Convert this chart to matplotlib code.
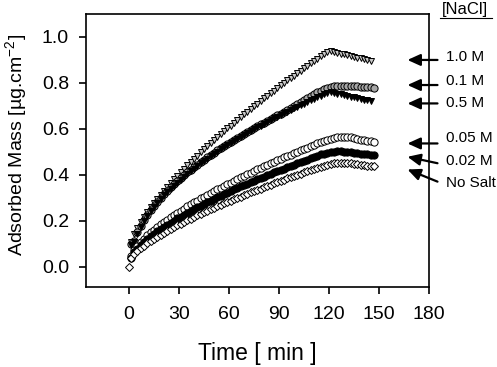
import matplotlib
matplotlib.use("Agg")
import matplotlib.pyplot as plt
from matplotlib.lines import Line2D

plt.rcParams['font.family'] = ['Liberation Sans', 'DejaVu Sans']
plt.rcParams['mathtext.fontset'] = 'custom'
plt.rcParams['mathtext.rm'] = 'Liberation Sans'
plt.rcParams['mathtext.it'] = 'Liberation Sans:italic'

# sampling times (min), one reading every 2 min
time_min = [1, 3, 5, 7, 9, 11, 13, 15, 17, 19, 21, 23, 25, 27, 29, 31, 33, 35, 37,
            39, 41, 43, 45, 47, 49, 51, 53, 55, 57, 59, 61, 63, 65, 67, 69, 71, 73,
            75, 77, 79, 81, 83, 85, 87, 89, 91, 93, 95, 97, 99, 101, 103, 105, 107,
            109, 111, 113, 115, 117, 119, 121, 123, 125, 127, 129, 131, 133, 135,
            137, 139, 141, 143, 145, 147]

# adsorbed mass (ug/cm2) for each salt concentration
mass_1_0M = [0.106, 0.141, 0.169, 0.194, 0.217, 0.238, 0.258, 0.277, 0.296, 0.313,
             0.331, 0.348, 0.364, 0.380, 0.395, 0.411, 0.426, 0.441, 0.455, 0.469,
             0.483, 0.497, 0.511, 0.524, 0.537, 0.551, 0.564, 0.576, 0.589, 0.602,
             0.614, 0.626, 0.639, 0.651, 0.663, 0.674, 0.686, 0.698, 0.709, 0.721,
             0.732, 0.744, 0.755, 0.766, 0.777, 0.788, 0.799, 0.810, 0.821, 0.831,
             0.842, 0.853, 0.863, 0.874, 0.884, 0.894, 0.905, 0.915, 0.925, 0.935,
             0.937, 0.933, 0.930, 0.926, 0.923, 0.920, 0.916, 0.913, 0.909, 0.906,
             0.903, 0.899, 0.896]
mass_0_5M = [0.095, 0.108, 0.144, 0.173, 0.198, 0.220, 0.241, 0.259, 0.277, 0.294,
             0.310, 0.325, 0.339, 0.353, 0.366, 0.379, 0.392, 0.404, 0.415, 0.427,
             0.438, 0.449, 0.460, 0.470, 0.480, 0.490, 0.500, 0.510, 0.519, 0.528,
             0.537, 0.546, 0.555, 0.564, 0.572, 0.581, 0.589, 0.597, 0.606, 0.613,
             0.621, 0.629, 0.637, 0.645, 0.652, 0.659, 0.667, 0.674, 0.681, 0.688,
             0.696, 0.703, 0.709, 0.716, 0.723, 0.730, 0.736, 0.743, 0.750, 0.756,
             0.759, 0.756, 0.753, 0.750, 0.746, 0.743, 0.740, 0.737, 0.733, 0.730,
             0.727, 0.724, 0.720]
mass_0_1M = [0.100, 0.114, 0.150, 0.179, 0.204, 0.226, 0.247, 0.265, 0.283, 0.300,
             0.316, 0.331, 0.345, 0.359, 0.372, 0.385, 0.398, 0.410, 0.421, 0.433,
             0.444, 0.455, 0.466, 0.476, 0.486, 0.496, 0.506, 0.516, 0.525, 0.534,
             0.543, 0.552, 0.561, 0.570, 0.578, 0.587, 0.595, 0.603, 0.612, 0.619,
             0.627, 0.635, 0.643, 0.651, 0.658, 0.665, 0.673, 0.680, 0.690, 0.698,
             0.706, 0.715, 0.724, 0.733, 0.742, 0.751, 0.759, 0.766, 0.772, 0.777,
             0.781, 0.784, 0.786, 0.787, 0.787, 0.787, 0.786, 0.785, 0.784, 0.783,
             0.782, 0.781, 0.780, 0.779]
mass_0_05M = [0.046, 0.071, 0.090, 0.107, 0.122, 0.136, 0.149, 0.161, 0.173, 0.184,
              0.195, 0.205, 0.215, 0.225, 0.235, 0.244, 0.253, 0.262, 0.271, 0.280,
              0.288, 0.297, 0.305, 0.313, 0.321, 0.329, 0.336, 0.344, 0.352, 0.359,
              0.366, 0.374, 0.381, 0.388, 0.395, 0.402, 0.409, 0.416, 0.423, 0.429,
              0.436, 0.443, 0.449, 0.456, 0.462, 0.469, 0.475, 0.481, 0.487, 0.494,
              0.500, 0.506, 0.512, 0.518, 0.524, 0.530, 0.536, 0.542, 0.547, 0.552,
              0.556, 0.560, 0.563, 0.565, 0.565, 0.564, 0.562, 0.559, 0.556, 0.553,
              0.550, 0.547, 0.545, 0.543]
mass_0_02M = [0.040, 0.062, 0.079, 0.094, 0.108, 0.120, 0.132, 0.143, 0.154, 0.164,
              0.174, 0.183, 0.192, 0.201, 0.210, 0.218, 0.227, 0.235, 0.243, 0.251,
              0.258, 0.266, 0.273, 0.281, 0.288, 0.295, 0.302, 0.309, 0.316, 0.322,
              0.329, 0.336, 0.342, 0.349, 0.355, 0.361, 0.368, 0.374, 0.380, 0.386,
              0.392, 0.398, 0.404, 0.410, 0.416, 0.422, 0.427, 0.433, 0.439, 0.444,
              0.450, 0.455, 0.461, 0.466, 0.472, 0.477, 0.482, 0.488, 0.492, 0.496,
              0.499, 0.501, 0.502, 0.502, 0.501, 0.500, 0.498, 0.496, 0.494, 0.492,
              0.491, 0.489, 0.487, 0.486]
# no salt run also has the t = 0 reading
time_nosalt = [0] + time_min
mass_nosalt = [0.000,
               0.037, 0.055, 0.068, 0.081, 0.092, 0.102, 0.112, 0.122, 0.131, 0.139,
               0.148, 0.156, 0.164, 0.172, 0.180, 0.187, 0.195, 0.202, 0.209, 0.216,
               0.223, 0.230, 0.236, 0.243, 0.250, 0.256, 0.262, 0.269, 0.275, 0.281,
               0.287, 0.293, 0.299, 0.305, 0.311, 0.317, 0.323, 0.329, 0.334, 0.340,
               0.345, 0.351, 0.357, 0.362, 0.367, 0.373, 0.378, 0.384, 0.389, 0.394,
               0.399, 0.405, 0.410, 0.415, 0.420, 0.425, 0.430, 0.435, 0.440, 0.444,
               0.447, 0.450, 0.452, 0.453, 0.453, 0.452, 0.450, 0.448, 0.446, 0.444,
               0.442, 0.440, 0.438, 0.436]

labels = ['1.0 M', '0.1 M', '0.5 M', '0.05 M', '0.02 M', 'No Salt']
label_y = [0.91, 0.807, 0.712, 0.56, 0.46, 0.366]
arrow_tail_y = [0.899, 0.79, 0.71, 0.536, 0.45, 0.37]
arrow_tip_y = [0.899, 0.79, 0.71, 0.536, 0.478, 0.423]

fig = plt.figure(figsize=(4.97, 3.67), dpi=100)
ax = fig.add_axes([0.1725, 0.218, 0.691, 0.744])

mk = dict(linestyle='none', markeredgecolor='black', markeredgewidth=0.7)
ax.plot(time_min[:len(mass_1_0M)], mass_1_0M, marker='v', markersize=4.8,
        markerfacecolor='#c8c8c8', **mk)
ax.plot(time_min, mass_0_1M, marker='o', markersize=5.2, markerfacecolor='#a6a6a6', **mk)
ax.plot(time_min[:len(mass_0_5M)], mass_0_5M, marker='v', markersize=4.8,
        markerfacecolor='black', **mk)
ax.plot(time_min, mass_0_05M, marker='o', markersize=5.2, markerfacecolor='white', **mk)
ax.plot(time_min, mass_0_02M, marker='o', markersize=5.2, markerfacecolor='black', **mk)
ax.plot(time_nosalt, mass_nosalt, marker='D', markersize=3.8, markerfacecolor='white', **mk)

ax.set_xlim(-26, 180)
ax.set_ylim(-0.088, 1.099)
ax.set_xticks([0, 30, 60, 90, 120, 150, 180])
ax.set_yticks([0.0, 0.2, 0.4, 0.6, 0.8, 1.0])
ax.set_yticklabels(['0.0', '0.2', '0.4', '0.6', '0.8', '1.0'])
ax.tick_params(direction='out', length=5, width=1.2, labelsize=14, pad=7)
ax.tick_params(axis='x', pad=9)
for sp in ax.spines.values():
    sp.set_linewidth(1.2)

ax.set_xlabel('Time [ min ]', fontsize=16.5)
ax.xaxis.set_label_coords(0.5, -0.2)
ax.set_ylabel('Adsorbed Mass [µg.cm$^{-2}$]', fontsize=14)
ax.yaxis.set_label_coords(-0.165, 0.52)

# concentration labels with arrows on the right
for lab, ly, ty, hy in zip(labels, label_y, arrow_tail_y, arrow_tip_y):
    ax.annotate('', xy=(167, hy), xytext=(185, ty), annotation_clip=False,
                arrowprops=dict(arrowstyle='-|>,head_length=0.55,head_width=0.25',
                                color='black', lw=1.6, mutation_scale=14,
                                shrinkA=0, shrinkB=0))
    ax.text(190, ly, lab, fontsize=11, va='center', ha='left', clip_on=False)

fig.text(0.936, 0.974, '[NaCl]', fontsize=12, ha='center', va='center')
fig.add_artist(Line2D([0.886, 0.99], [0.952, 0.952], color='black', lw=0.8))

fig.savefig('out.png', dpi=100)
